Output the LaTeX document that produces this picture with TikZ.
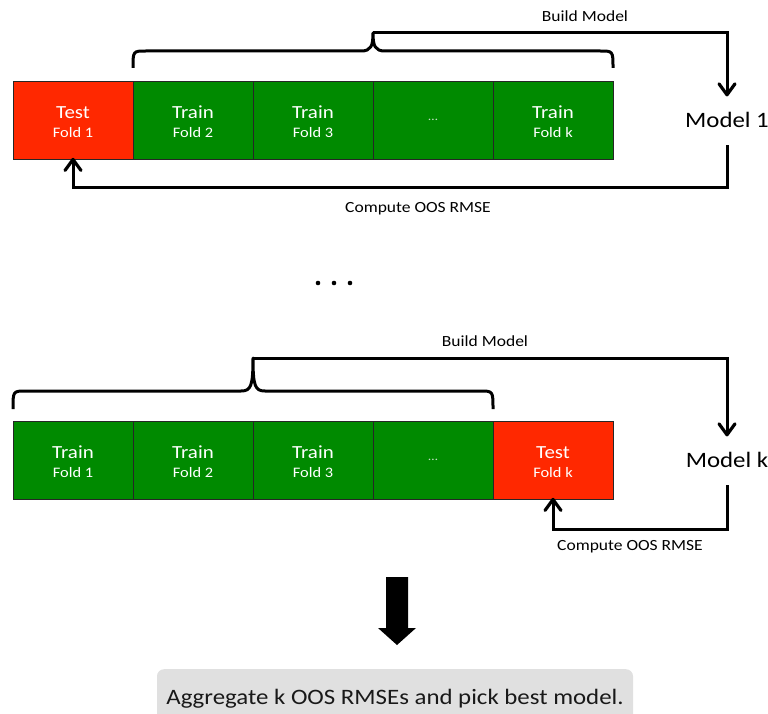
\documentclass[tikz,border=0pt]{standalone}
\usepackage{fontspec}
\setmainfont{Carlito}[FakeStretch=1.13]
\usetikzlibrary{calc}
\definecolor{foldred}{RGB}{255,40,0}
\definecolor{foldgreen}{RGB}{0,138,0}
\definecolor{aggfill}{RGB}{224,224,224}
\definecolor{dotgray}{RGB}{200,225,200}
% two-line fold caption; the strut lowers the pair slightly inside the box
\newcommand{\foldlabel}[2]{\rule{0pt}{16.5pt}#1\\[-1pt]{\fontsize{14.5}{15}\selectfont #2}}
% open chevron heads drawn at a connector's end point
\newcommand{\headdown}[1]{\draw[headline]
  ($(#1)+(-8,-11)$) -- (#1) -- ($(#1)+(8,-11)$);}
\newcommand{\headup}[1]{\draw[headline]
  ($(#1)+(-8,11)$) -- (#1) -- ($(#1)+(8,11)$);}
\begin{document}
\begin{tikzpicture}[x=1pt,y=-1pt,
  fold/.style={draw=black!85,line width=0.9pt,minimum width=120pt,minimum height=78pt,
    inner sep=0pt,text=white,align=center,font=\fontsize{18.5}{20}\selectfont},
  testfold/.style={fold,fill=foldred},
  trainfold/.style={fold,fill=foldgreen},
  conn/.style={line width=3pt},
  headline/.style={line width=3.2pt,line join=round,line cap=round},
  bracestyle/.style={line width=3pt,line join=round},
  model/.style={minimum height=50pt,inner sep=0pt,font=\fontsize{22}{24}\selectfont},
  smalllabel/.style={inner sep=0pt,font=\fontsize{15.5}{16}\selectfont}
]
\useasboundingbox (0,0) rectangle (768,714);

% ---------- first split: fold 1 held out ----------
\node[testfold]  (a1) at (73,120)  {\foldlabel{Test}{Fold 1}};
\node[trainfold] (a2) at (193,120) {\foldlabel{Train}{Fold 2}};
\node[trainfold] (a3) at (313,120) {\foldlabel{Train}{Fold 3}};
\node[trainfold] (a4) at (433,120) {\textcolor{dotgray}{\fontsize{12}{12}\selectfont …}};
\node[trainfold] (a5) at (553,120) {\foldlabel{Train}{Fold k}};

% brace over the training folds
\coordinate (tipA) at (373,33);
\draw[bracestyle] (133,68) .. controls (133,51) .. (146,51) -- (361,51)
  .. controls (371,51) and (373,46) .. (tipA)
  .. controls (373,46) and (375,51) .. (385,51) -- (600,51)
  .. controls (613,51) .. (613,68);

\node[model] (m1) at (727,120) {Model 1};
\draw[conn] (tipA) -| (m1.north);
\headdown{m1.north}
\node[smalllabel] (lbA) at (585,16) {Build Model};

\coordinate (rA) at (727,188);
\draw[conn] (m1.south) -- (rA) -| (a1.south);
\headup{a1.south}
\node[smalllabel] (lcA) at (418,209) {Compute OOS RMSE};

% ---------- dots between the splits ----------
\fill (318,283) circle (2.3pt);
\fill (334,283) circle (2.3pt);
\fill (350,283) circle (2.3pt);

% ---------- last split: fold k held out ----------
\node[trainfold] (b1) at (73,460)  {\foldlabel{Train}{Fold 1}};
\node[trainfold] (b2) at (193,460) {\foldlabel{Train}{Fold 2}};
\node[trainfold] (b3) at (313,460) {\foldlabel{Train}{Fold 3}};
\node[trainfold] (b4) at (433,460) {\textcolor{dotgray}{\fontsize{12}{12}\selectfont …}};
\node[testfold]  (b5) at (553,460) {\foldlabel{Test}{Fold k}};

\coordinate (tipB) at (253,358);
\draw[bracestyle] (13,409) .. controls (13,391) .. (26,391) -- (241,391)
  .. controls (251,391) and (253,386) .. (tipB)
  .. controls (253,386) and (255,391) .. (265,391) -- (480,391)
  .. controls (493,391) .. (493,409);

\node[model] (mk) at (727,460) {Model k};
\draw[conn] (tipB) -| (mk.north);
\headdown{mk.north}
\node[smalllabel] (lbB) at (485,341) {Build Model};

\coordinate (rB) at (727,529);
\draw[conn] (mk.south) -- (rB) -| (b5.south);
\headup{b5.south}
\node[smalllabel] (lcB) at (630,547) {Compute OOS RMSE};

% ---------- aggregation ----------
\fill (386,577) -- (408,577) -- (408,628) -- (416,628) -- (397,645)
  -- (378,628) -- (386,628) -- cycle;
\node[fill=aggfill,rounded corners=7pt,minimum width=476pt,minimum height=60pt,
  anchor=north,inner sep=0pt,text=black!90,font=\fontsize{22}{24}\selectfont]
  (agg) at (395,669) {Aggregate k OOS RMSEs and pick best model.};
\end{tikzpicture}
\end{document}
